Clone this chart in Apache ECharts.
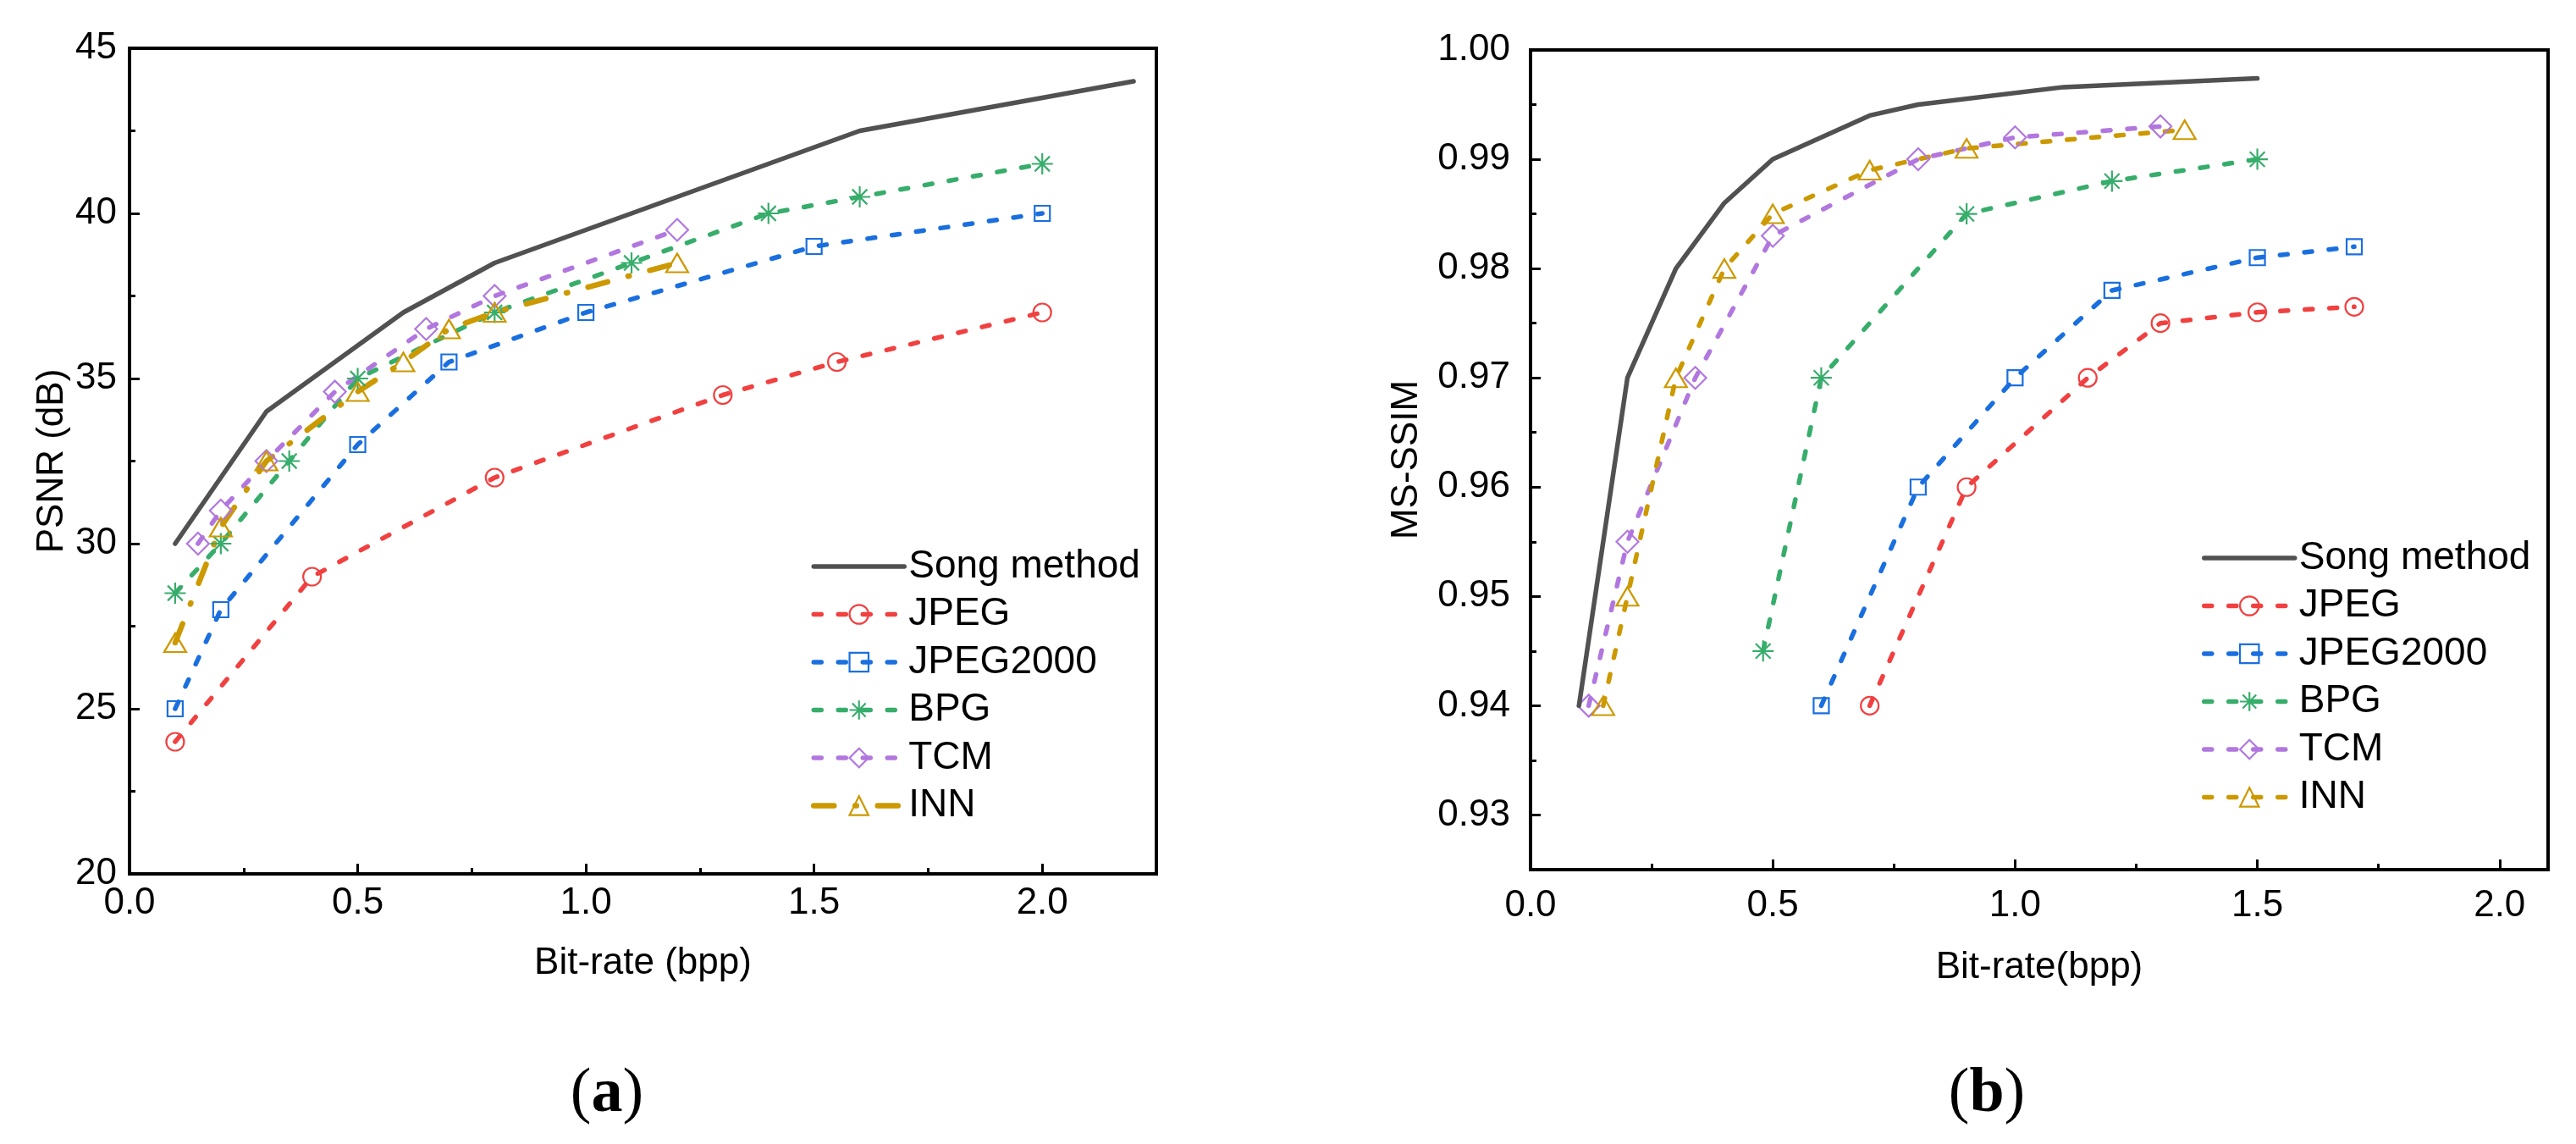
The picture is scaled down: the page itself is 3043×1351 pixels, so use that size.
<!DOCTYPE html>
<html><head><meta charset="utf-8">
<script src="https://cdn.jsdelivr.net/npm/echarts@6/dist/echarts.min.js"></script>
<style>html,body{margin:0;padding:0;background:#fff;}#c{width:3043px;height:1351px;}</style>
</head><body><div id="c"></div>
<script>
// ---------- data ----------
const seriesNames = ['Song method', 'JPEG', 'JPEG2000', 'BPG', 'TCM', 'INN'];
const colors = ['#515151', '#F14040', '#1A6FDF', '#37AD6B', '#B177DE', '#CC9900'];

// (a) PSNR vs bit-rate
const psnrSongX = [0.1, 0.3, 0.6, 0.8, 1.4, 1.6, 2.2];
const psnrSongY = [30, 34, 37, 38.5, 41.5, 42.5, 44];
const psnrJpegX = [0.1, 0.4, 0.8, 1.3, 1.55, 2.0];
const psnrJpegY = [24, 29, 32, 34.5, 35.5, 37];
const psnrJ2kX = [0.1, 0.2, 0.5, 0.7, 1.0, 1.5, 2.0];
const psnrJ2kY = [25, 28, 33, 35.5, 37, 39, 40];
const psnrBpgX = [0.1, 0.2, 0.35, 0.5, 0.8, 1.1, 1.4, 1.6, 2.0];
const psnrBpgY = [28.5, 30, 32.5, 35, 37, 38.5, 40, 40.5, 41.5];
const psnrTcmX = [0.15, 0.2, 0.3, 0.45, 0.65, 0.8, 1.2];
const psnrTcmY = [30, 31, 32.5, 34.6, 36.5, 37.5, 39.5];
const psnrInnX = [0.1, 0.2, 0.3, 0.5, 0.6, 0.7, 0.8, 1.2];
const psnrInnY = [27, 30.5, 32.5, 34.6, 35.5, 36.5, 37, 38.5];

// (b) MS-SSIM vs bit-rate
const ssimSongX = [0.1, 0.2, 0.3, 0.4, 0.5, 0.7, 0.8, 1.1, 1.5];
const ssimSongY = [0.94, 0.97, 0.98, 0.986, 0.99, 0.994, 0.995, 0.9966, 0.9974];
const ssimJpegX = [0.7, 0.9, 1.15, 1.3, 1.5, 1.7];
const ssimJpegY = [0.94, 0.96, 0.97, 0.975, 0.976, 0.9765];
const ssimJ2kX = [0.6, 0.8, 1.0, 1.2, 1.5, 1.7];
const ssimJ2kY = [0.94, 0.96, 0.97, 0.978, 0.981, 0.982];
const ssimBpgX = [0.48, 0.6, 0.9, 1.2, 1.5];
const ssimBpgY = [0.945, 0.97, 0.985, 0.988, 0.99];
const ssimTcmX = [0.12, 0.2, 0.34, 0.5, 0.8, 1.0, 1.3];
const ssimTcmY = [0.94, 0.955, 0.97, 0.983, 0.99, 0.992, 0.993];
const ssimInnX = [0.15, 0.2, 0.3, 0.4, 0.5, 0.7, 0.9, 1.35];
const ssimInnY = [0.94, 0.95, 0.97, 0.98, 0.985, 0.989, 0.991, 0.9927];

// tick values
const xTicksA = [0, 0.5, 1.0, 1.5, 2.0];
const xMinorA = [0.25, 0.75, 1.25, 1.75];
const yTicksA = [20, 25, 30, 35, 40, 45];
const yMinorA = [22.5, 27.5, 32.5, 37.5, 42.5];
const xTicksB = [0, 0.5, 1.0, 1.5, 2.0];
const xMinorB = [0.25, 0.75, 1.25, 1.75];
const yTicksB = [0.93, 0.94, 0.95, 0.96, 0.97, 0.98, 0.99, 1.00];
const yMinorB = [0.935, 0.945, 0.955, 0.965, 0.975, 0.985, 0.995];

// ---------- helpers ----------
const pairs = (xs, ys) => xs.map((x, i) => [x, ys[i]]);
const FONT = 'Liberation Sans';
const starPath = 'path://M0 12L24 12M12 0L12 24M3.5 3.5L20.5 20.5M20.5 3.5L3.5 20.5';
const symbols = ['none', 'circle', 'rect', starPath, 'diamond', 'triangle'];
const symSizes = [0, 21, 18, 25, 26, [26, 22]];
const dash = [9, 20];

function mkSeries(i, data, xi, yi, suffix, innDashDot) {
  const isSong = i === 0;
  let lt = isSong ? 'solid' : dash;
  let lw = isSong ? 5.5 : 5.5;
  if (i === 5 && innDashDot) { lt = [24, 25, 1.5, 25]; lw = 6.5; }
  return {
    type: 'line',
    name: seriesNames[i] + suffix,
    xAxisIndex: xi, yAxisIndex: yi,
    data: data,
    symbol: symbols[i],
    symbolSize: symSizes[i],
    showSymbol: !isSong,
    lineStyle: { color: colors[i], width: lw, type: lt, cap: 'round', join: 'round' },
    itemStyle: { color: 'rgba(255,255,255,0)', borderColor: isSong ? 'rgba(0,0,0,0)' : colors[i], borderWidth: isSong ? 0 : 2.2 },
    emphasis: { disabled: true },
    z: isSong ? 3 : 2
  };
}

function mainX(grid, max, ticks, name, gap, margin) {
  return {
    type: 'value', gridIndex: grid, min: 0, max: max, position: 'bottom',
    axisLine: { show: true, onZero: false, lineStyle: { color: '#000', width: 4 } },
    axisTick: { show: true, inside: true, length: 12, customValues: ticks, lineStyle: { color: '#000', width: 3 } },
    axisLabel: { show: true, customValues: ticks, formatter: v => Number(v).toFixed(1), fontFamily: FONT, fontSize: 44, color: '#000', margin: margin },
    splitLine: { show: false },
    name: name, nameLocation: 'middle', nameGap: gap,
    nameTextStyle: { fontFamily: FONT, fontSize: 44, color: '#000' }
  };
}
function minorX(grid, max, ticks) {
  return {
    type: 'value', gridIndex: grid, min: 0, max: max, position: 'bottom',
    axisLine: { show: false, onZero: false },
    axisTick: { show: true, inside: true, length: 7, customValues: ticks, lineStyle: { color: '#000', width: 3 } },
    axisLabel: { show: false }, splitLine: { show: false }
  };
}
function mainY(grid, min, max, ticks, digits, name, gap, margin) {
  return {
    type: 'value', gridIndex: grid, min: min, max: max, position: 'left',
    axisLine: { show: true, onZero: false, lineStyle: { color: '#000', width: 4 } },
    axisTick: { show: true, inside: true, length: 12, customValues: ticks, lineStyle: { color: '#000', width: 3 } },
    axisLabel: { show: true, customValues: ticks, formatter: v => Number(v).toFixed(digits), fontFamily: FONT, fontSize: 44, color: '#000', margin: margin },
    splitLine: { show: false },
    name: name, nameLocation: 'middle', nameGap: gap,
    nameTextStyle: { fontFamily: FONT, fontSize: 44, color: '#000' }
  };
}
function minorY(grid, min, max, ticks) {
  return {
    type: 'value', gridIndex: grid, min: min, max: max, position: 'left',
    axisLine: { show: false, onZero: false },
    axisTick: { show: true, inside: true, length: 7, customValues: ticks, lineStyle: { color: '#000', width: 3 } },
    axisLabel: { show: false }, splitLine: { show: false }
  };
}

const legendBase = {
  orient: 'vertical', itemWidth: 107, itemHeight: 28, itemGap: 10.5,
  selectedMode: false,
  textStyle: { fontFamily: FONT, fontSize: 46, lineHeight: 46, color: '#000' },
  lineStyle: { width: 'inherit' },
  itemStyle: { borderWidth: 'inherit' },
  formatter: n => n.replace('#b', '')
};

const seriesA = [
  mkSeries(0, pairs(psnrSongX, psnrSongY), 0, 0, '', true),
  mkSeries(1, pairs(psnrJpegX, psnrJpegY), 0, 0, '', true),
  mkSeries(2, pairs(psnrJ2kX, psnrJ2kY), 0, 0, '', true),
  mkSeries(3, pairs(psnrBpgX, psnrBpgY), 0, 0, '', true),
  mkSeries(4, pairs(psnrTcmX, psnrTcmY), 0, 0, '', true),
  mkSeries(5, pairs(psnrInnX, psnrInnY), 0, 0, '', true)
];
const seriesB = [
  mkSeries(0, pairs(ssimSongX, ssimSongY), 2, 2, '#b', false),
  mkSeries(1, pairs(ssimJpegX, ssimJpegY), 2, 2, '#b', false),
  mkSeries(2, pairs(ssimJ2kX, ssimJ2kY), 2, 2, '#b', false),
  mkSeries(3, pairs(ssimBpgX, ssimBpgY), 2, 2, '#b', false),
  mkSeries(4, pairs(ssimTcmX, ssimTcmY), 2, 2, '#b', false),
  mkSeries(5, pairs(ssimInnX, ssimInnY), 2, 2, '#b', false)
];

const capRich = {
  p: { fontFamily: 'Liberation Serif', fontSize: 74, color: '#000' },
  b: { fontFamily: 'Liberation Serif', fontSize: 74, fontWeight: 'bold', color: '#000' }
};

const option = {
  animation: false,
  backgroundColor: '#fff',
  grid: [
    { left: 153, top: 57, width: 1213, height: 975, show: true, borderColor: '#000', borderWidth: 4, backgroundColor: 'rgba(0,0,0,0)' },
    { left: 1808, top: 59, width: 1202, height: 968, show: true, borderColor: '#000', borderWidth: 4, backgroundColor: 'rgba(0,0,0,0)' }
  ],
  xAxis: [
    mainX(0, 2.25, xTicksA, 'Bit-rate (bpp)', 84, 13),
    minorX(0, 2.25, xMinorA),
    mainX(1, 2.1, xTicksB, 'Bit-rate(bpp)', 94, 21),
    minorX(1, 2.1, xMinorB)
  ],
  yAxis: [
    mainY(0, 20, 45, yTicksA, 0, 'PSNR (dB)', 69, 15),
    minorY(0, 20, 45, yMinorA),
    mainY(1, 0.925, 1.0, yTicksB, 2, 'MS-SSIM', 124, 24),
    minorY(1, 0.925, 1.0, yMinorB)
  ],
  legend: [
    Object.assign({}, legendBase, { left: 953, top: 641, data: seriesNames.slice() }),
    Object.assign({}, legendBase, { left: 2596, top: 631, data: seriesNames.map(n => n + '#b') })
  ],
  graphic: [
    { type: 'text', x: 717, y: 1293, style: { text: '{p|(}{b|a}{p|)}', rich: capRich, align: 'center', verticalAlign: 'middle' } },
    { type: 'text', x: 2347, y: 1293, style: { text: '{p|(}{b|b}{p|)}', rich: capRich, align: 'center', verticalAlign: 'middle' } }
  ],
  series: seriesA.concat(seriesB)
};

const chart = echarts.init(document.getElementById('c'), null, { renderer: 'canvas' });
chart.setOption(option);
</script>
</body></html>
